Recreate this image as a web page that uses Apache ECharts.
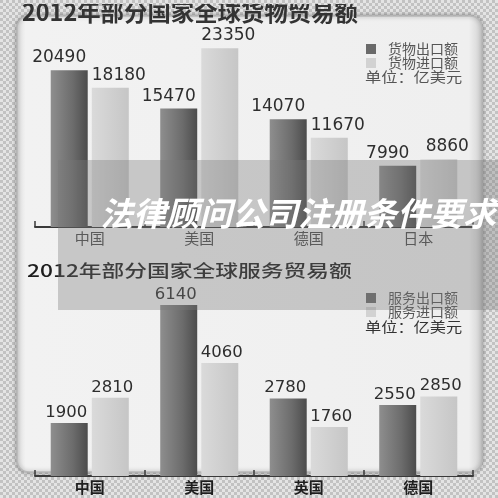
<!DOCTYPE html>
<html><head><meta charset="utf-8">
<script src="https://cdn.jsdelivr.net/npm/echarts@6/dist/echarts.min.js"></script>
<style>html,body{margin:0;padding:0;background:#d6d6d6}#c{width:498px;height:498px}</style>
</head><body><div id="c"></div>
<script>
const goodsTitle = '2012年部分国家全球货物贸易额';
const serviceTitle = '2012年部分国家全球服务贸易额';
const goodsCategories = ['中国', '美国', '德国', '日本'];
const goodsExport = [20490, 15470, 14070, 7990];
const goodsImport = [18180, 23350, 11670, 8860];
const serviceCategories = ['中国', '美国', '英国', '德国'];
const serviceExport = [1900, 6140, 2780, 2550];
const serviceImport = [2810, 4060, 1760, 2850];
const goodsNames = ['货物出口额', '货物进口额'];
const serviceNames = ['服务出口额', '服务进口额'];
const unitText = '单位：亿美元';
const watermark = '法律顾问公司注册条件要求';

const cv = document.createElement('canvas');
cv.width = 6; cv.height = 6;
const cx = cv.getContext('2d');
cx.fillStyle = '#e4e4e4'; cx.fillRect(0, 0, 6, 6);
cx.fillStyle = '#c2c2c2'; cx.fillRect(0, 0, 3, 3); cx.fillRect(3, 3, 3, 3);
const checker = { image: cv, repeat: 'repeat' };

const darkGrad = new echarts.graphic.LinearGradient(0, 0, 1, 0, [
  { offset: 0, color: '#8e8e8e' }, { offset: 0.6, color: '#6c6c6c' }, { offset: 1, color: '#4c4c4c' }]);
const lightGrad = new echarts.graphic.LinearGradient(0, 0, 1, 0, [
  { offset: 0, color: '#dadada' }, { offset: 1, color: '#c6c6c6' }]);

const chart = echarts.init(document.getElementById('c'));

function xAx(idx, cats, color, weight) {
  return {
    type: 'category', gridIndex: idx, data: cats,
    axisLine: { lineStyle: { color: '#3a3a3a', width: 2 } },
    axisTick: { show: true, inside: true, length: 6, lineStyle: { color: '#3a3a3a', width: 1.5 } },
    axisLabel: { fontSize: 15, color: color, margin: 4, fontWeight: weight,
      fontFamily: 'Noto Sans CJK SC' }
  };
}
function yAx(idx, max) {
  return { type: 'value', gridIndex: idx, min: 0, max: max, show: false, splitLine: { show: false } };
}
function bar(name, data, idx, color, off, fs, dist) {
  return {
    type: 'bar', name: name, data: data, xAxisIndex: idx, yAxisIndex: idx,
    barWidth: 37, barGap: '11%', itemStyle: { color: color },
    label: { show: true, position: 'top', distance: dist, offset: [off, 0],
      fontFamily: 'DejaVu Sans', fontSize: fs, color: '#2e2e2e' },
    z: 2
  };
}
function legend(names, top, color) {
  return {
    data: [{ name: names[0], itemStyle: { color: '#6a6a6a' } },
           { name: names[1], itemStyle: { color: '#d2d2d2' } }],
    left: 366, top: top, orient: 'vertical', icon: 'rect', padding: 0,
    itemWidth: 10, itemHeight: 10, itemGap: 0,
    textStyle: { fontSize: 14, lineHeight: 14, color: color, padding: [0, 0, 0, 7],
      fontFamily: 'Noto Sans CJK SC' }
  };
}

chart.setOption({
  animation: false,
  backgroundColor: 'transparent',
  grid: [
    { left: 35, width: 438, top: 28, height: 199 },
    { left: 35, width: 438, top: 300.5, height: 175.5 }
  ],
  xAxis: [xAx(0, goodsCategories, '#4a4a4a', 'normal'), xAx(1, serviceCategories, '#1e1e1e', 'bold')],
  yAxis: [yAx(0, 26000), yAx(1, 6300)],
  legend: [legend(goodsNames, 42, '#555'), legend(serviceNames, 291, '#555')],
  series: [
    bar(goodsNames[0], goodsExport, 0, darkGrad, -10, 17, 4),
    bar(goodsNames[1], goodsImport, 0, lightGrad, 8.5, 17, 4),
    bar(serviceNames[0], serviceExport, 1, darkGrad, -3, 16.5, 2),
    bar(serviceNames[1], serviceImport, 1, lightGrad, 2, 16.5, 2)
  ],
  graphic: [
    { type: 'rect', z: -20, shape: { x: 0, y: 0, width: 498, height: 498 }, style: { fill: checker } },
    { type: 'rect', z: -19, shape: { x: 17, y: 16, width: 465, height: 456, r: 12 },
      style: { fill: new echarts.graphic.LinearGradient(0, 0, 1, 0, [
        { offset: 0, color: '#dcdcdc' }, { offset: 0.02, color: '#f2f2f2' },
        { offset: 0.97, color: '#efefef' }, { offset: 1, color: '#cfcfcf' }]),
        stroke: '#b8b8b8', lineWidth: 1.5, shadowBlur: 4, shadowColor: 'rgba(0,0,0,0.35)' } },
    { type: 'text', z: 5, x: 22, y: 12, scaleX: 1.3, scaleY: 1.3,
      style: { text: goodsTitle, fontSize: 18, fontWeight: 'bold', fill: '#333',
        fontFamily: 'Noto Sans CJK SC', textVerticalAlign: 'middle' } },
    { type: 'rect', z: 6, shape: { x: 0, y: 0, width: 498, height: 4 }, style: { fill: checker } },
    { type: 'text', z: 5, x: 27, y: 270.5, scaleX: 1.3, scaleY: 1,
      style: { text: serviceTitle, fontSize: 17.5, fontWeight: '500', fill: '#1e1e1e',
        fontFamily: 'Noto Sans CJK SC', textVerticalAlign: 'middle' } },
    { type: 'text', z: 5, x: 365, y: 77, scaleX: 1.2,
      style: { text: unitText, fontSize: 13.5, fill: '#555', fontFamily: 'Noto Sans CJK SC',
        textVerticalAlign: 'middle' } },
    { type: 'text', z: 5, x: 365, y: 327, scaleX: 1.2,
      style: { text: unitText, fontSize: 13.5, fill: '#333', fontFamily: 'Noto Sans CJK SC',
        textVerticalAlign: 'middle' } },
    { type: 'rect', z: 100, shape: { x: 58, y: 160, width: 440, height: 150 },
      style: { fill: 'rgba(120,120,120,0.35)' } },
    { type: 'text', z: 101, x: 100, y: 213,
      style: { text: watermark, fontSize: 33, fontWeight: 'bold', fontStyle: 'italic',
        fill: '#ffffff', fontFamily: 'Noto Sans CJK SC', textVerticalAlign: 'middle',
        shadowBlur: 2, shadowColor: 'rgba(0,0,0,0.3)' } }
  ]
});
</script></body></html>
